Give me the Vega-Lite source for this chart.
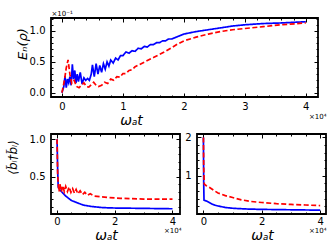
{
"$schema": "https://vega.github.io/schema/vega-lite/v6.json",
"padding": {"left": 5, "top": 8, "right": 0, "bottom": 0},
"datasets": {
"top": [
{"t":0,"v":0,"s":"a"},{"t":0.03,"v":0.1,"s":"a"},{"t":0.05,"v":0.27,"s":"a"},{"t":0.07,"v":0.08,"s":"a"},{"t":0.09,"v":0.22,"s":"a"},{"t":0.11,"v":0.16,"s":"a"},{"t":0.13,"v":0.26,"s":"a"},{"t":0.15,"v":0.12,"s":"a"},{"t":0.17,"v":0.46,"s":"a"},{"t":0.19,"v":0.22,"s":"a"},{"t":0.21,"v":0.36,"s":"a"},{"t":0.23,"v":0.16,"s":"a"},{"t":0.25,"v":0.3,"s":"a"},{"t":0.27,"v":0.18,"s":"a"},{"t":0.3,"v":0.33,"s":"a"},{"t":0.33,"v":0.14,"s":"a"},{"t":0.36,"v":0.24,"s":"a"},{"t":0.39,"v":0.2,"s":"a"},{"t":0.42,"v":0.23,"s":"a"},{"t":0.45,"v":0.2,"s":"a"},{"t":0.48,"v":0.3,"s":"a"},{"t":0.5,"v":0.45,"s":"a"},{"t":0.53,"v":0.26,"s":"a"},{"t":0.56,"v":0.47,"s":"a"},{"t":0.59,"v":0.3,"s":"a"},{"t":0.62,"v":0.44,"s":"a"},{"t":0.65,"v":0.33,"s":"a"},{"t":0.68,"v":0.47,"s":"a"},{"t":0.71,"v":0.38,"s":"a"},{"t":0.74,"v":0.5,"s":"a"},{"t":0.77,"v":0.43,"s":"a"},{"t":0.8,"v":0.53,"s":"a"},{"t":0.84,"v":0.48,"s":"a"},{"t":0.88,"v":0.56,"s":"a"},{"t":0.92,"v":0.53,"s":"a"},{"t":0.96,"v":0.6,"s":"a"},{"t":1.0,"v":0.6,"s":"a"},{"t":1.05,"v":0.66,"s":"a"},{"t":1.1,"v":0.64,"s":"a"},{"t":1.15,"v":0.68,"s":"a"},{"t":1.2,"v":0.67,"s":"a"},{"t":1.25,"v":0.72,"s":"a"},{"t":1.3,"v":0.71,"s":"a"},{"t":1.35,"v":0.75,"s":"a"},{"t":1.4,"v":0.74,"s":"a"},{"t":1.45,"v":0.78,"s":"a"},{"t":1.5,"v":0.78,"s":"a"},{"t":1.55,"v":0.81,"s":"a"},{"t":1.6,"v":0.81,"s":"a"},{"t":1.65,"v":0.84,"s":"a"},{"t":1.7,"v":0.84,"s":"a"},{"t":1.75,"v":0.87,"s":"a"},{"t":1.8,"v":0.87,"s":"a"},{"t":1.9,"v":0.91,"s":"a"},{"t":2.0,"v":0.95,"s":"a"},{"t":2.1,"v":0.97,"s":"a"},{"t":2.2,"v":0.99,"s":"a"},{"t":2.4,"v":1.02,"s":"a"},{"t":2.6,"v":1.05,"s":"a"},{"t":2.8,"v":1.08,"s":"a"},{"t":3.0,"v":1.1,"s":"a"},{"t":3.3,"v":1.12,"s":"a"},{"t":3.6,"v":1.13,"s":"a"},{"t":4.0,"v":1.15,"s":"a"},
{"t":0,"v":0,"s":"b"},{"t":0.04,"v":0.2,"s":"b"},{"t":0.07,"v":0.4,"s":"b"},{"t":0.1,"v":0.53,"s":"b"},{"t":0.13,"v":0.3,"s":"b"},{"t":0.16,"v":0.15,"s":"b"},{"t":0.2,"v":0.2,"s":"b"},{"t":0.24,"v":0.1,"s":"b"},{"t":0.28,"v":0.08,"s":"b"},{"t":0.32,"v":0.12,"s":"b"},{"t":0.36,"v":0.16,"s":"b"},{"t":0.4,"v":0.1,"s":"b"},{"t":0.44,"v":0.09,"s":"b"},{"t":0.48,"v":0.13,"s":"b"},{"t":0.52,"v":0.17,"s":"b"},{"t":0.56,"v":0.12,"s":"b"},{"t":0.6,"v":0.1,"s":"b"},{"t":0.65,"v":0.12,"s":"b"},{"t":0.7,"v":0.17,"s":"b"},{"t":0.75,"v":0.15,"s":"b"},{"t":0.8,"v":0.22,"s":"b"},{"t":0.85,"v":0.2,"s":"b"},{"t":0.9,"v":0.26,"s":"b"},{"t":0.95,"v":0.25,"s":"b"},{"t":1.0,"v":0.31,"s":"b"},{"t":1.05,"v":0.31,"s":"b"},{"t":1.1,"v":0.36,"s":"b"},{"t":1.15,"v":0.37,"s":"b"},{"t":1.2,"v":0.42,"s":"b"},{"t":1.3,"v":0.47,"s":"b"},{"t":1.4,"v":0.52,"s":"b"},{"t":1.5,"v":0.57,"s":"b"},{"t":1.6,"v":0.62,"s":"b"},{"t":1.7,"v":0.67,"s":"b"},{"t":1.8,"v":0.73,"s":"b"},{"t":1.9,"v":0.79,"s":"b"},{"t":2.0,"v":0.84,"s":"b"},{"t":2.2,"v":0.9,"s":"b"},{"t":2.4,"v":0.95,"s":"b"},{"t":2.6,"v":0.99,"s":"b"},{"t":2.8,"v":1.02,"s":"b"},{"t":3.0,"v":1.04,"s":"b"},{"t":3.3,"v":1.07,"s":"b"},{"t":3.6,"v":1.1,"s":"b"},{"t":4.0,"v":1.13,"s":"b"}
],
"bl": [
{"t":0,"v":1.0,"s":"a"},{"t":0.02,"v":0.6,"s":"a"},{"t":0.04,"v":0.36,"s":"a"},{"t":0.1,"v":0.32,"s":"a"},{"t":0.2,"v":0.28,"s":"a"},{"t":0.3,"v":0.24,"s":"a"},{"t":0.4,"v":0.21,"s":"a"},{"t":0.5,"v":0.18,"s":"a"},{"t":0.7,"v":0.15,"s":"a"},{"t":0.9,"v":0.12,"s":"a"},{"t":1.2,"v":0.1,"s":"a"},{"t":1.6,"v":0.085,"s":"a"},{"t":2.0,"v":0.08,"s":"a"},{"t":3.0,"v":0.075,"s":"a"},{"t":4.0,"v":0.07,"s":"a"},
{"t":0,"v":1.0,"s":"b"},{"t":0.02,"v":0.55,"s":"b"},{"t":0.04,"v":0.4,"s":"b"},{"t":0.07,"v":0.3,"s":"b"},{"t":0.1,"v":0.4,"s":"b"},{"t":0.15,"v":0.3,"s":"b"},{"t":0.2,"v":0.38,"s":"b"},{"t":0.25,"v":0.3,"s":"b"},{"t":0.3,"v":0.37,"s":"b"},{"t":0.36,"v":0.3,"s":"b"},{"t":0.42,"v":0.36,"s":"b"},{"t":0.48,"v":0.29,"s":"b"},{"t":0.54,"v":0.34,"s":"b"},{"t":0.6,"v":0.28,"s":"b"},{"t":0.66,"v":0.33,"s":"b"},{"t":0.72,"v":0.27,"s":"b"},{"t":0.8,"v":0.31,"s":"b"},{"t":0.88,"v":0.26,"s":"b"},{"t":0.96,"v":0.29,"s":"b"},{"t":1.05,"v":0.25,"s":"b"},{"t":1.15,"v":0.27,"s":"b"},{"t":1.3,"v":0.24,"s":"b"},{"t":1.5,"v":0.23,"s":"b"},{"t":1.8,"v":0.22,"s":"b"},{"t":2.2,"v":0.21,"s":"b"},{"t":3.0,"v":0.2,"s":"b"},{"t":4.0,"v":0.2,"s":"b"}
],
"br": [
{"t":0,"v":2.0,"s":"a"},{"t":0.01,"v":0.8,"s":"a"},{"t":0.02,"v":0.36,"s":"a"},{"t":0.1,"v":0.34,"s":"a"},{"t":0.2,"v":0.3,"s":"a"},{"t":0.35,"v":0.24,"s":"a"},{"t":0.5,"v":0.21,"s":"a"},{"t":0.75,"v":0.17,"s":"a"},{"t":1.0,"v":0.15,"s":"a"},{"t":1.5,"v":0.13,"s":"a"},{"t":2.0,"v":0.12,"s":"a"},{"t":3.0,"v":0.11,"s":"a"},{"t":4.0,"v":0.1,"s":"a"},
{"t":0,"v":2.0,"s":"b"},{"t":0.01,"v":1.2,"s":"b"},{"t":0.03,"v":0.78,"s":"b"},{"t":0.1,"v":0.74,"s":"b"},{"t":0.2,"v":0.7,"s":"b"},{"t":0.35,"v":0.62,"s":"b"},{"t":0.5,"v":0.55,"s":"b"},{"t":0.75,"v":0.48,"s":"b"},{"t":1.0,"v":0.43,"s":"b"},{"t":1.3,"v":0.37,"s":"b"},{"t":1.6,"v":0.33,"s":"b"},{"t":2.0,"v":0.3,"s":"b"},{"t":2.5,"v":0.27,"s":"b"},{"t":3.0,"v":0.25,"s":"b"},{"t":3.5,"v":0.235,"s":"b"},{"t":4.0,"v":0.22,"s":"b"}
]
},
"vconcat": [
{
"width": 267, "height": 79,
"data": {"name": "top"},
"layer": [
{"mark": {"type": "line", "clip": true, "strokeWidth": 1.7},
"encoding": {
"x": {"field": "t", "type": "quantitative", "scale": {"domain": [-0.18, 4.2], "nice": false, "zero": false},
"axis": {"orient": "bottom", "values": [0,0.2,0.4,0.6,0.8,1,1.2,1.4,1.6,1.8,2,2.2,2.4,2.6,2.8,3,3.2,3.4,3.6,3.8,4], "labelExpr": "round(datum.value)==datum.value ? format(datum.value,'d') : ''", "tickSize": {"condition": {"test": "round(datum.value)==datum.value", "value": -4}, "value": -2}, "labelPadding": 8, "title": "ωₐt", "titleFontSize": 14, "titleFontStyle": "italic", "titleX": 80, "titleY": 23, "titleBaseline": "middle", "titleAlign": "center"}},
"y": {"field": "v", "type": "quantitative", "scale": {"domain": [-0.07, 1.21], "nice": false, "zero": false},
"axis": {"orient": "left", "values": [0,0.1,0.2,0.3,0.4,0.5,0.6,0.7,0.8,0.9,1,1.1,1.2], "labelExpr": "round(datum.value*2)==datum.value*2 ? format(datum.value,'.1f') : ''", "tickSize": {"condition": {"test": "round(datum.value*2)==datum.value*2", "value": -4}, "value": -2}, "labelPadding": 10, "title": "Eₙ(ρ)", "titleFontSize": 13, "titleFontStyle": "italic", "titleX": -28.5, "titleY": 25.5, "titleBaseline": "middle", "titleAngle": -90}},
"color": {"field": "s", "type": "nominal", "scale": {"domain": ["a","b"], "range": ["#0000ff","#ff0000"]}, "legend": null},
"strokeDash": {"field": "s", "type": "nominal", "scale": {"domain": ["a","b"], "range": [[1,0],[5,2.5]]}, "legend": null}
}},
{"mark": {"type": "line", "opacity": 0},
"encoding": {
"x": {"field": "t", "type": "quantitative", "axis": {"orient": "top", "values": [0,0.2,0.4,0.6,0.8,1,1.2,1.4,1.6,1.8,2,2.2,2.4,2.6,2.8,3,3.2,3.4,3.6,3.8,4], "labels": false, "tickSize": {"condition": {"test": "round(datum.value)==datum.value", "value": -4}, "value": -2}, "title": "×10⁻¹", "titleFontSize": 7, "titleX": 0, "titleY": -5, "titleAlign": "left", "titleBaseline": "middle"}},
"y": {"field": "v", "type": "quantitative", "axis": {"orient": "right", "values": [0,0.1,0.2,0.3,0.4,0.5,0.6,0.7,0.8,0.9,1,1.1,1.2], "labels": false, "tickSize": {"condition": {"test": "round(datum.value*2)==datum.value*2", "value": -4}, "value": -2}, "title": "×10⁴", "titleFontSize": 7, "titleAngle": 0, "titleX": 8, "titleY": 98, "titleAlign": "right", "titleBaseline": "middle"}}
}}
],
"resolve": {"axis": {"x": "independent", "y": "independent"}}
},
{
"hconcat": [
{
"width": 129, "height": 80,
"data": {"name": "bl"},
"layer": [
{"mark": {"type": "line", "clip": true, "strokeWidth": 1.7},
"encoding": {
"x": {"field": "t", "type": "quantitative", "scale": {"domain": [-0.21, 4.26], "nice": false, "zero": false},
"axis": {"orient": "bottom", "values": [0,0.5,1,1.5,2,2.5,3,3.5,4], "labelExpr": "datum.value%2==0 ? format(datum.value,'d') : ''", "tickSize": {"condition": {"test": "datum.value%2==0", "value": -4}, "value": -2}, "labelPadding": 6, "title": "ωₐt", "titleFontSize": 14, "titleFontStyle": "italic", "titleX": 55, "titleY": 21, "titleBaseline": "middle", "titleAlign": "center"}},
"y": {"field": "v", "type": "quantitative", "scale": {"domain": [0, 1.07], "nice": false, "zero": false},
"axis": {"orient": "left", "values": [0.1,0.2,0.3,0.4,0.5,0.6,0.7,0.8,0.9,1], "labelExpr": "round(datum.value*2)==datum.value*2 ? format(datum.value,'.1f') : ''", "tickSize": {"condition": {"test": "round(datum.value*2)==datum.value*2", "value": -4}, "value": -2}, "labelPadding": 10, "title": "⟨b̃ₗ†b̃ₗ⟩", "titleFontSize": 12, "titleFontStyle": "italic", "titleX": -38.5, "titleY": 23, "titleBaseline": "middle", "titleAngle": -90}},
"color": {"field": "s", "type": "nominal", "scale": {"domain": ["a","b"], "range": ["#0000ff","#ff0000"]}, "legend": null},
"strokeDash": {"field": "s", "type": "nominal", "scale": {"domain": ["a","b"], "range": [[1,0],[5,2.5]]}, "legend": null}
}},
{"mark": {"type": "line", "opacity": 0},
"encoding": {
"x": {"field": "t", "type": "quantitative", "axis": {"orient": "top", "values": [0,0.5,1,1.5,2,2.5,3,3.5,4], "labels": false, "tickSize": {"condition": {"test": "datum.value%2==0", "value": -4}, "value": -2}, "title": null}},
"y": {"field": "v", "type": "quantitative", "axis": {"orient": "right", "values": [0.1,0.2,0.3,0.4,0.5,0.6,0.7,0.8,0.9,1], "labels": false, "tickSize": {"condition": {"test": "round(datum.value*2)==datum.value*2", "value": -4}, "value": -2}, "title": "×10⁴", "titleFontSize": 7, "titleAngle": 0, "titleX": 1, "titleY": 96, "titleAlign": "right", "titleBaseline": "middle"}}
}}
],
"resolve": {"axis": {"x": "independent", "y": "independent"}}
},
{
"width": 129, "height": 80,
"data": {"name": "br"},
"layer": [
{"mark": {"type": "line", "clip": true, "strokeWidth": 1.7},
"encoding": {
"x": {"field": "t", "type": "quantitative", "scale": {"domain": [-0.22, 4.2], "nice": false, "zero": false},
"axis": {"orient": "bottom", "values": [0,0.5,1,1.5,2,2.5,3,3.5,4], "labelExpr": "datum.value%2==0 ? format(datum.value,'d') : ''", "tickSize": {"condition": {"test": "datum.value%2==0", "value": -4}, "value": -2}, "labelPadding": 6, "title": "ωₐt", "titleFontSize": 14, "titleFontStyle": "italic", "titleX": 65, "titleY": 21, "titleBaseline": "middle", "titleAlign": "center"}},
"y": {"field": "v", "type": "quantitative", "scale": {"domain": [0, 2.09], "nice": false, "zero": false},
"axis": {"orient": "left", "values": [0.2,0.4,0.6,0.8,1,1.2,1.4,1.6,1.8,2], "labelExpr": "round(datum.value)==datum.value ? format(datum.value,'d') : ''", "tickSize": {"condition": {"test": "round(datum.value)==datum.value", "value": -4}, "value": -2}, "labelPadding": 10, "title": null}},
"color": {"field": "s", "type": "nominal", "scale": {"domain": ["a","b"], "range": ["#0000ff","#ff0000"]}, "legend": null},
"strokeDash": {"field": "s", "type": "nominal", "scale": {"domain": ["a","b"], "range": [[1,0],[5,2.5]]}, "legend": null}
}},
{"mark": {"type": "line", "opacity": 0},
"encoding": {
"x": {"field": "t", "type": "quantitative", "axis": {"orient": "top", "values": [0,0.5,1,1.5,2,2.5,3,3.5,4], "labels": false, "tickSize": {"condition": {"test": "datum.value%2==0", "value": -4}, "value": -2}, "title": null}},
"y": {"field": "v", "type": "quantitative", "axis": {"orient": "right", "values": [0.2,0.4,0.6,0.8,1,1.2,1.4,1.6,1.8,2], "labels": false, "tickSize": {"condition": {"test": "round(datum.value)==datum.value", "value": -4}, "value": -2}, "title": "×10⁴", "titleFontSize": 7, "titleAngle": 0, "titleX": 0, "titleY": 96, "titleAlign": "right", "titleBaseline": "middle"}}
}}
],
"resolve": {"axis": {"x": "independent", "y": "independent"}}
}
],
"spacing": 17,
"bounds": "flush"
}
],
"spacing": 37,
"bounds": "flush",
"config": {
"view": {"stroke": "black", "strokeWidth": 1.8},
"font": "DejaVu Sans",
"axis": {"domain": false, "grid": false, "labelFont": "DejaVu Sans", "labelFontSize": 10, "labelColor": "black", "tickColor": "black", "tickWidth": 1, "titleFont": "DejaVu Sans", "titleFontWeight": "normal", "titleColor": "black"}
}
}
